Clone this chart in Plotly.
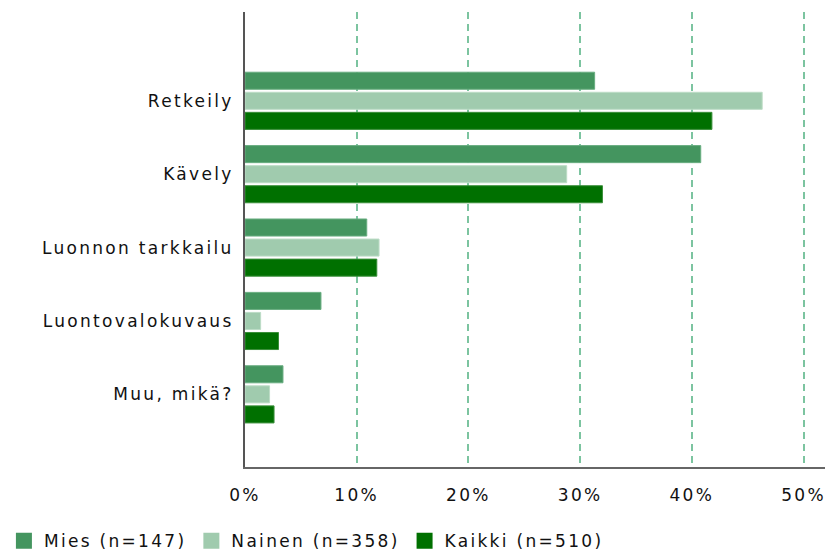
import plotly.graph_objects as go

categories = ["Retkeily", "Kävely", "Luonnon tarkkailu", "Luontovalokuvaus", "Muu, mikä?"]
mies = [31.3, 40.8, 10.9, 6.8, 3.4]
nainen = [46.3, 28.8, 12.0, 1.4, 2.2]
kaikki = [41.8, 32.0, 11.8, 3.0, 2.6]
series_names = ["Mies (n=147)", "Nainen (n=358)", "Kaikki (n=510)"]
colors = ["#44955f", "#a0cbae", "#007000"]
edge_colors = ["#68ad80", "#bcdcc6", "#3a8f3a"]
x_ticks = [0, 10, 20, 30, 40, 50]

FONT = "DejaVu Sans"
SPACED = '<span style="letter-spacing:2.3px">{}</span>'

fig = go.Figure()
for name, vals, c, ec in zip(series_names, [mies, nainen, kaikki], colors, edge_colors):
    fig.add_trace(go.Bar(
        y=categories, x=vals, name=name, orientation="h", showlegend=False,
        legendgroup=name,
        marker=dict(color=c, line=dict(color=ec, width=1)),
    ))
# legend entries (square swatches)
for name, c in zip(series_names, colors):
    fig.add_trace(go.Scatter(
        x=[None], y=[None], mode="markers", name=SPACED.format(name),
        legendgroup=name,
        marker=dict(symbol="square", size=16, color=c),
    ))

# page body has an 8px margin, so the figure is 825x549 to fill the 833x557 window
fig.update_layout(
    width=825, height=549,
    margin=dict(l=237, r=0, t=4, b=90, autoexpand=False),
    plot_bgcolor="white", paper_bgcolor="white",
    barmode="group", bargap=0.18, bargroupgap=0.15,
    font=dict(family=FONT, size=17, color="#111111"),
    showlegend=True,
    legend=dict(orientation="h", x=-0.41, xanchor="left", y=-0.163, yanchor="middle",
                font=dict(family=FONT, size=17, color="#111111"),
                traceorder="normal", itemwidth=30),
)
fig.update_xaxes(
    range=[0, 52.64], tickvals=x_ticks,
    ticktext=[SPACED.format(f"{v}%") for v in x_ticks],
    showgrid=True, gridcolor="#7cc4a0", griddash="7px,5px", gridwidth=1.5,
    showline=True, linecolor="#666666", linewidth=1.5,
    zeroline=False, ticks="", tickfont=dict(size=17), ticklabelstandoff=12,
    automargin=False,
)
fig.update_yaxes(
    categoryorder="array", categoryarray=categories,
    tickvals=categories, ticktext=[SPACED.format(c) for c in categories],
    range=[4.99, -1.21],
    showgrid=False, showline=True, linecolor="#555555", linewidth=2,
    zeroline=False, ticks="", tickfont=dict(size=17), ticklabelstandoff=6,
    automargin=False,
)

fig.write_html("out.html")
